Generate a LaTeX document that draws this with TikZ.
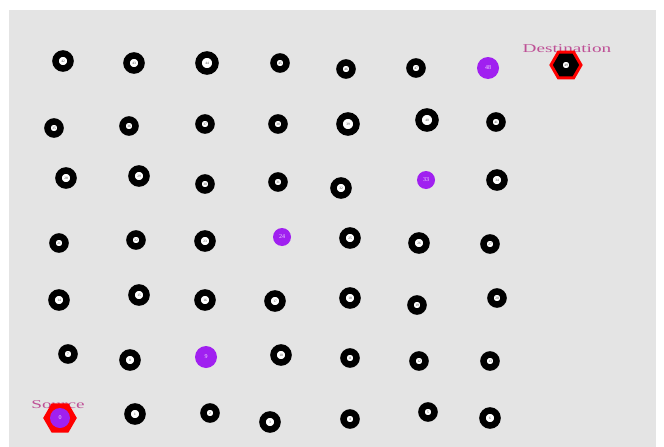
\documentclass[tikz,border=0pt]{standalone}
\usepackage{fontspec}
\setmainfont{Liberation Serif}
\usetikzlibrary{shapes.geometric}
\definecolor{bg}{RGB}{228,228,228}
\definecolor{nspurple}{RGB}{160,32,240}
\definecolor{lbl}{RGB}{190,80,150}
\tikzset{
  nd/.style={circle, draw=black, line width=6.5pt, fill=white, inner sep=0pt,
    font=\fontsize{3.5}{3.5}\selectfont, text=black!75},
  pn/.style={circle, fill=nspurple, inner sep=0pt,
    font=\fontsize{6}{6}\selectfont, text=white!85!nspurple},
  hexa/.style={regular polygon, regular polygon sides=6, draw=red, inner sep=0pt},
  tag/.style={text=lbl, font=\fontsize{12}{12}\selectfont, inner sep=0pt, xscale=1.6}
}
\begin{document}
\begin{tikzpicture}[x=1pt,y=-1pt]
\useasboundingbox (0,0) rectangle (664,447);
\fill[white] (0,0) rectangle (664,447);
\fill[bg] (9,9.5) rectangle (656,447);
% labels
\node[tag] (tsrc) at (58,405) {Source};
\node[tag] (tdst) at (567,49) {Destination};
% hexagons
\node[hexa, fill=red, line width=4pt, minimum size=29pt] (hsrc) at (60,418) {};
\node[hexa, fill=black, line width=3pt, minimum size=30pt] (hdst) at (566,65) {};
% bottom row 0-6
\node[pn, minimum size=20pt] (n0) at (60,418) {0};
\node[nd, minimum size=15pt] (n1) at (135,414) {1};
\node[nd, minimum size=13pt] (n2) at (210,413) {2};
\node[nd, minimum size=15pt] (n3) at (270,422) {3};
\node[nd, minimum size=13pt] (n4) at (350,419) {4};
\node[nd, minimum size=13pt] (n5) at (428,412) {5};
\node[nd, minimum size=15pt] (n6) at (490,418) {6};
% row 7-13
\node[nd, minimum size=13pt] (n7) at (68,354) {7};
\node[nd, minimum size=15pt] (n8) at (130,360) {8};
\node[pn, minimum size=22pt] (n9) at (206,357) {9};
\node[nd, minimum size=15pt] (n10) at (281,355) {10};
\node[nd, minimum size=13pt] (n11) at (350,358) {11};
\node[nd, minimum size=13pt] (n12) at (419,361) {12};
\node[nd, minimum size=13pt] (n13) at (490,361) {13};
% row 14-20
\node[nd, minimum size=15pt] (n14) at (59,300) {14};
\node[nd, minimum size=15pt] (n15) at (139,295) {15};
\node[nd, minimum size=15pt] (n16) at (205,300) {16};
\node[nd, minimum size=15pt] (n17) at (275,301) {17};
\node[nd, minimum size=15pt] (n18) at (350,298) {18};
\node[nd, minimum size=13pt] (n19) at (417,305) {19};
\node[nd, minimum size=13pt] (n20) at (497,298) {20};
% row 21-27
\node[nd, minimum size=13pt] (n21) at (59,243) {21};
\node[nd, minimum size=13pt] (n22) at (136,240) {22};
\node[nd, minimum size=15pt] (n23) at (205,241) {23};
\node[pn, minimum size=18pt] (n24) at (282,237) {24};
\node[nd, minimum size=15pt] (n25) at (350,238) {25};
\node[nd, minimum size=15pt] (n26) at (419,243) {26};
\node[nd, minimum size=13pt] (n27) at (490,244) {27};
% row 28-34
\node[nd, minimum size=15pt] (n28) at (66,178) {28};
\node[nd, minimum size=15pt] (n29) at (139,176) {29};
\node[nd, minimum size=13pt] (n30) at (205,184) {30};
\node[nd, minimum size=13pt] (n31) at (278,182) {31};
\node[nd, minimum size=15pt] (n32) at (341,188) {32};
\node[pn, minimum size=18pt] (n33) at (426,180) {33};
\node[nd, minimum size=15pt] (n34) at (497,180) {34};
% row 35-41
\node[nd, minimum size=13pt] (n35) at (54,128) {35};
\node[nd, minimum size=13pt] (n36) at (129,126) {36};
\node[nd, minimum size=13pt] (n37) at (205,124) {37};
\node[nd, minimum size=13pt] (n38) at (278,124) {38};
\node[nd, minimum size=17pt] (n39) at (348,124) {39};
\node[nd, minimum size=17pt] (n40) at (427,120) {40};
\node[nd, minimum size=13pt] (n41) at (496,122) {41};
% top row 42-48
\node[nd, minimum size=15pt] (n42) at (63,61) {42};
\node[nd, minimum size=15pt] (n43) at (134,63) {43};
\node[nd, minimum size=17pt] (n44) at (207,63) {44};
\node[nd, minimum size=13pt] (n45) at (280,63) {45};
\node[nd, minimum size=13pt] (n46) at (346,69) {46};
\node[nd, minimum size=13pt] (n47) at (416,68) {47};
\node[pn, minimum size=22pt] (n48) at (488,68) {48};
% destination
\node[nd, minimum size=13pt] (n49) at (566,65) {49};
\end{tikzpicture}
\end{document}
